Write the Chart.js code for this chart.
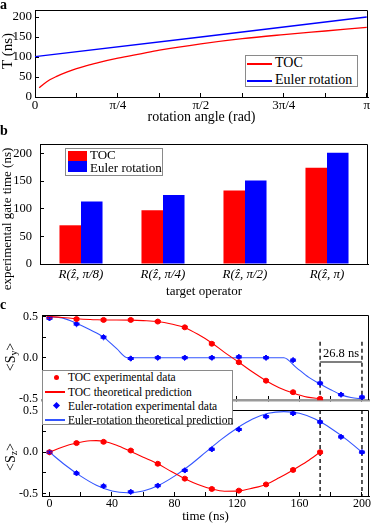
<!DOCTYPE html>
<html>
<head>
<meta charset="utf-8">
<script src="https://cdn.jsdelivr.net/npm/chart.js@4.4.0/dist/chart.umd.min.js"></script>
<style>
  body { margin: 0; background: #fff; }
  #fig { position: relative; width: 374px; height: 523px; overflow: hidden;
         font-family: 'Liberation Serif', 'Times New Roman', serif; color: #000; }
  canvas { position: absolute; left: 0; }
  .panel { position: absolute; font-weight: bold; font-size: 14px; line-height: 14px; }
  .ytitle { position: absolute; white-space: nowrap; transform: translate(-50%, -50%) rotate(-90deg); }
  .legend { position: absolute; box-sizing: border-box; background: #fff; border: 1px solid #8a8a8a; z-index: 5; }
  .legend span { position: absolute; }
  .lt { white-space: nowrap; line-height: 16px; }
  .ln { height: 1.5px; }
  sub { font-size: 70%; vertical-align: -0.25em; }
</style>
</head>
<body>
<div id="fig">
  <canvas id="chartA" width="374" height="124" style="top:0px"></canvas>
  <canvas id="chartB" width="374" height="178" style="top:122px"></canvas>
  <canvas id="chartC2" width="374" height="120" style="top:403px"></canvas>
  <canvas id="chartC1" width="374" height="110" style="top:300px"></canvas>

  <div class="panel" style="left:0px;top:-2px">a</div>
  <div class="panel" style="left:0px;top:124px">b</div>
  <div class="panel" style="left:0px;top:298px">c</div>

  <div class="ytitle" style="left:7px;top:51px;font-size:15px">T (ns)</div>
  <div class="ytitle" style="left:7px;top:219px;font-size:13px">experimental gate time (ns)</div>
  <div class="ytitle" style="left:11px;top:357px;font-size:14px">&lt;S<sub>y</sub>&gt;</div>
  <div class="ytitle" style="left:11px;top:457px;font-size:14px">&lt;S<sub>z</sub>&gt;</div>

  <div class="legend" style="left:245px;top:55px;width:113px;height:32px;font-size:14px">
    <span class="ln" style="left:1px;top:7px;width:25px;background:#ff0000"></span>
    <span class="lt" style="left:29px;top:-1px">TOC</span>
    <span class="ln" style="left:1px;top:24px;width:25px;background:#0000ff"></span>
    <span class="lt" style="left:29px;top:16px">Euler rotation</span>
  </div>

  <div class="legend" style="left:65px;top:148px;width:98px;height:28px;font-size:13px">
    <span style="left:2px;top:2px;width:19px;height:10px;background:#ff0000"></span>
    <span class="lt" style="left:24px;top:-2px">TOC</span>
    <span style="left:2px;top:12px;width:19px;height:11px;background:#0000ff"></span>
    <span class="lt" style="left:24px;top:11px">Euler rotation</span>
  </div>

  <div class="legend" style="left:42px;top:370px;width:191px;height:55px;font-size:11.5px">
    <span style="left:11px;top:4px;width:5px;height:5px;border-radius:50%;background:#ff0000"></span>
    <span class="lt" style="left:25px;top:-2px">TOC experimental data</span>
    <span class="ln" style="left:2px;top:20px;width:20px;background:#ff0000"></span>
    <span class="lt" style="left:25px;top:13px">TOC theoretical prediction</span>
    <span style="left:11px;top:32px;width:5px;height:5px;transform:rotate(45deg);background:#0000ff"></span>
    <span class="lt" style="left:25px;top:27px">Euler-rotation experimental data</span>
    <span class="ln" style="left:2px;top:48px;width:20px;background:#3355ff"></span>
    <span class="lt" style="left:25px;top:41px">Euler-rotation theoretical prediction</span>
  </div>
</div>

<script>
// ---- panel a: gate time vs rotation angle ----
const angleTOC = [0.04, 0.08, 0.14, 0.2, 0.3, 0.393, 0.5, 0.6, 0.785, 1.0, 1.178, 1.571, 1.963, 2.356, 2.749, 3.142];
const timeTOC = [23, 32, 43, 51, 62, 71, 79, 86, 97, 108, 117, 133, 146, 156, 165, 174];
const angleEuler = [0, 1.571, 3.142];
const timeEuler = [101, 150, 200];
const angleTickLabels = ['0', '', 'π/4', '', 'π/2', '', '3π/4', '', 'π'];

// ---- panel b: experimental gate time per target operator ----
const operators = ['R(ẑ, π/8)', 'R(ẑ, π/4)', 'R(ẑ, π/2)', 'R(ẑ, π)'];
const gateTOC = [70, 97, 133, 174];
const gateEuler = [113, 125, 151, 201];

// ---- panel c: spin expectation values vs time ----
const tocTimes = [0, 17.3, 34.6, 52.0, 69.3, 86.6, 103.9, 121.2, 138.6, 155.9, 173.2];
const tocSy = [0.50, 0.47, 0.46, 0.46, 0.44, 0.37, 0.17, -0.055, -0.28, -0.42, -0.50];
const tocSz = [0.00, 0.11, 0.125, 0.02, -0.14, -0.32, -0.445, -0.465, -0.39, -0.215, 0.00];
const tocErr = [0.012, 0.012, 0.012, 0.012, 0.012, 0.012, 0.012, 0.012, 0.012, 0.012, 0.012];

const eulerTimes = [0, 17.3, 34.6, 52.0, 69.3, 86.6, 103.9, 121.2, 138.6, 155.9, 173.2, 186.6, 200];
const eulerSy = [0.48, 0.41, 0.25, -0.01, 0.0, 0.0, 0.0, 0.01, 0.0, -0.03, -0.31, -0.45, -0.48];
const eulerSz = [0.0, -0.255, -0.41, -0.48, -0.405, -0.22, 0.035, 0.275, 0.43, 0.47, 0.365, 0.185, 0.0];
const eulerErr = [0.012, 0.012, 0.012, 0.012, 0.012, 0.012, 0.012, 0.012, 0.012, 0.012, 0.012, 0.012, 0.012];

const tocTheoryT = [0, 8, 17.3, 26, 30, 34.6, 43, 52, 60, 69.3, 78, 86.6, 95, 103.9, 112, 121.2, 130, 138.6, 147, 155.9, 165, 173.2];
const tocTheorySy = [0.50, 0.49, 0.475, 0.465, 0.462, 0.46, 0.46, 0.458, 0.452, 0.44, 0.41, 0.365, 0.285, 0.18, 0.065, -0.055, -0.175, -0.28, -0.365, -0.43, -0.48, -0.50];
const tocTheorySz = [0.0, 0.06, 0.11, 0.138, 0.14, 0.133, 0.085, 0.008, -0.06, -0.14, -0.235, -0.32, -0.39, -0.445, -0.472, -0.468, -0.435, -0.39, -0.31, -0.215, -0.11, 0.0];

const eulerTheorySyT = [0, 8, 17.3, 26, 34.6, 43, 50, 100, 150, 158, 166, 173.2, 180, 186.6, 193, 200];
const eulerTheorySy = [0.5, 0.485, 0.42, 0.34, 0.25, 0.11, 0.0, 0.0, 0.0, -0.12, -0.24, -0.32, -0.39, -0.45, -0.485, -0.5];
const eulerTheorySzT = [0, 10, 20, 30, 40, 50, 60, 70, 80, 90, 100, 110, 120, 130, 140, 150, 160, 170, 180, 190, 200];
const eulerTheorySz = [0, -0.155, -0.29, -0.4, -0.47, -0.49, -0.47, -0.4, -0.29, -0.155, 0, 0.155, 0.29, 0.4, 0.47, 0.49, 0.47, 0.4, 0.29, 0.155, 0];

const timeTicks = [0, 20, 40, 60, 80, 100, 120, 140, 160, 180, 200];
const spinTicks = [-0.5, -0.25, 0, 0.25, 0.5];

const RED = '#ff0000';
const BLUE = '#0000ff';
const LINEBLUE = '#3355ff';

Chart.defaults.font.family = "'Liberation Serif', 'Times New Roman', serif";
Chart.defaults.color = '#000';
Chart.defaults.animation = false;

function pts(xs, ys) {
    return xs.map((x, i) => ({ x: x, y: ys[i] }));
}

// fixed axis thickness, and no extra room reserved for edge labels
function fixAxis(prop, size) {
    return s => {
        s[prop] = size;
        s.paddingTop = 0; s.paddingBottom = 0; s.paddingLeft = 0; s.paddingRight = 0;
    };
}

// closes the box: top and right edges of the plot
const framePlugin = {
    id: 'frame',
    afterDraw(chart) {
        const { ctx, chartArea: a } = chart;
        ctx.save();
        ctx.strokeStyle = '#000';
        ctx.lineWidth = 1;
        ctx.beginPath();
        ctx.moveTo(Math.round(a.left) + 0.5, Math.round(a.top) + 0.5);
        ctx.lineTo(Math.round(a.right) - 0.5, Math.round(a.top) + 0.5);
        ctx.lineTo(Math.round(a.right) - 0.5, Math.round(a.bottom));
        ctx.stroke();
        ctx.restore();
    }
};

// small capped error bars for datasets carrying an errs array
const errorBarPlugin = {
    id: 'errorBars',
    afterDatasetsDraw(chart) {
        const { ctx } = chart;
        const yScale = chart.scales.y;
        chart.data.datasets.forEach((ds, i) => {
            if (!ds.errs) return;
            const meta = chart.getDatasetMeta(i);
            ctx.save();
            ctx.strokeStyle = ds.backgroundColor;
            ctx.lineWidth = 1;
            meta.data.forEach((pt, j) => {
                const yTop = yScale.getPixelForValue(ds.data[j].y + ds.errs[j]);
                const yBot = yScale.getPixelForValue(ds.data[j].y - ds.errs[j]);
                ctx.beginPath();
                ctx.moveTo(pt.x, yTop); ctx.lineTo(pt.x, yBot);
                ctx.moveTo(pt.x - 3, yTop); ctx.lineTo(pt.x + 3, yTop);
                ctx.moveTo(pt.x - 3, yBot); ctx.lineTo(pt.x + 3, yBot);
                ctx.stroke();
            });
            ctx.restore();
        });
    }
};

// dashed markers at the end times of both gates + the 26.8 ns bracket
const guidePlugin = {
    id: 'guides',
    beforeDatasetsDraw(chart, args, opts) {
        if (!opts.xs) return;
        const { ctx, chartArea: a, scales: { x, y } } = chart;
        const top = opts.from == null ? a.top : y.getPixelForValue(opts.from);
        ctx.save();
        ctx.setLineDash([4, 3]);
        ctx.strokeStyle = '#000';
        ctx.lineWidth = 1.3;
        opts.xs.forEach(v => {
            const px = x.getPixelForValue(v);
            ctx.beginPath();
            ctx.moveTo(px, top);
            ctx.lineTo(px, a.bottom);
            ctx.stroke();
        });
        if (opts.label) {
            const x1 = x.getPixelForValue(opts.xs[0]);
            const x2 = x.getPixelForValue(opts.xs[1]);
            const py = y.getPixelForValue(opts.barY);
            ctx.setLineDash([]);
            ctx.strokeStyle = '#555';
            ctx.lineWidth = 1.5;
            ctx.beginPath();
            ctx.moveTo(x1, py);
            ctx.lineTo(x2, py);
            ctx.stroke();
            ctx.fillStyle = '#000';
            ctx.font = "12.5px 'Liberation Serif', serif";
            ctx.textAlign = 'center';
            ctx.textBaseline = 'bottom';
            ctx.fillText(opts.label, (x1 + x2) / 2, py - 2);
        }
        ctx.restore();
    }
};

// ---- chart a ----
new Chart(document.getElementById('chartA'), {
    type: 'scatter',
    data: {
        datasets: [
            {
                label: 'TOC',
                data: pts(angleTOC, timeTOC),
                showLine: true,
                borderColor: RED,
                borderWidth: 1.3,
                pointRadius: 0,
                cubicInterpolationMode: 'monotone'
            },
            {
                label: 'Euler rotation',
                data: pts(angleEuler, timeEuler),
                showLine: true,
                borderColor: BLUE,
                borderWidth: 1.3,
                pointRadius: 0
            }
        ]
    },
    options: {
        responsive: false,
        layout: { padding: { top: 10, right: 6, left: 0, bottom: 0 } },
        plugins: { legend: { display: false }, tooltip: { enabled: false } },
        scales: {
            x: {
                type: 'linear',
                min: 0,
                max: 3.154,
                afterFit: fixAxis('height', 27),
                afterBuildTicks: s => { s.ticks = [0, 1, 2, 3, 4, 5, 6, 7, 8].map(k => ({ value: k * Math.PI / 8 })); },
                ticks: {
                    font: { size: 13 },
                    padding: 5,
                    maxRotation: 0,
                    autoSkip: false,
                    callback: (v, i) => angleTickLabels[i]
                },
                grid: { drawOnChartArea: false, tickLength: -4, color: '#000' },
                border: { color: '#000' },
                title: { display: true, text: 'rotation angle (rad)', font: { size: 14, lineHeight: 1 }, padding: 0 }
            },
            y: {
                min: 0,
                max: 217.5,
                afterFit: fixAxis('width', 35),
                afterBuildTicks: s => { s.ticks = [0, 50, 100, 150, 200].map(v => ({ value: v })); },
                ticks: { font: { size: 13 }, padding: 7, autoSkip: false },
                grid: { drawOnChartArea: false, tickLength: -4, color: '#000' },
                border: { color: '#000' }
            }
        }
    },
    plugins: [framePlugin]
});

// ---- chart b ----
new Chart(document.getElementById('chartB'), {
    type: 'bar',
    data: {
        labels: operators,
        datasets: [
            { label: 'TOC', data: gateTOC, backgroundColor: RED, borderWidth: 0 },
            { label: 'Euler rotation', data: gateEuler, backgroundColor: BLUE, borderWidth: 0 }
        ]
    },
    options: {
        responsive: false,
        layout: { padding: { top: 22, right: 6, left: 0, bottom: 0 } },
        categoryPercentage: 0.525,
        barPercentage: 1,
        plugins: { legend: { display: false }, tooltip: { enabled: false } },
        scales: {
            x: {
                afterFit: fixAxis('height', 36),
                ticks: { font: { size: 13, style: 'italic' }, padding: 3, maxRotation: 0 },
                grid: { display: false, drawTicks: false, tickLength: 0 },
                border: { display: true, color: '#000' },
                title: { display: true, text: 'target operator', font: { size: 13, lineHeight: 1 }, padding: { top: 0, bottom: 2 } }
            },
            y: {
                min: 0,
                max: 217,
                afterFit: fixAxis('width', 40),
                afterBuildTicks: s => { s.ticks = [0, 50, 100, 150, 200].map(v => ({ value: v })); },
                ticks: { font: { size: 12.5 }, padding: 12, autoSkip: false },
                grid: { drawOnChartArea: false, tickLength: -4, color: '#000' },
                border: { color: '#000' }
            }
        }
    },
    plugins: [framePlugin]
});

// ---- chart c (shared pieces) ----
function spinChart(id, tocExp, tocTheory, eulerExp, eulerTheoryT, eulerTheory, opts) {
    return new Chart(document.getElementById(id), {
        type: 'scatter',
        data: {
            datasets: [
                {
                    label: 'TOC experimental data',
                    data: pts(tocTimes, tocExp),
                    errs: tocErr,
                    backgroundColor: RED,
                    borderColor: RED,
                    pointRadius: 2.5,
                    pointStyle: 'circle'
                },
                {
                    label: 'Euler-rotation experimental data',
                    data: pts(eulerTimes, eulerExp),
                    errs: eulerErr,
                    backgroundColor: BLUE,
                    borderColor: BLUE,
                    pointRadius: 2.7,
                    pointStyle: 'rectRot'
                },
                {
                    label: 'TOC theoretical prediction',
                    data: pts(tocTheoryT, tocTheory),
                    showLine: true,
                    borderColor: RED,
                    borderWidth: 1.1,
                    pointRadius: 0,
                    cubicInterpolationMode: 'monotone'
                },
                {
                    label: 'Euler-rotation theoretical prediction',
                    data: pts(eulerTheoryT, eulerTheory),
                    showLine: true,
                    borderColor: LINEBLUE,
                    borderWidth: 1.1,
                    pointRadius: 0,
                    cubicInterpolationMode: 'monotone'
                }
            ]
        },
        options: {
            responsive: false,
            layout: { padding: { top: opts.top, right: 2, left: 0, bottom: 0 } },
            plugins: {
                legend: { display: false },
                tooltip: { enabled: false },
                guides: opts.guides
            },
            scales: {
                x: {
                    type: 'linear',
                    min: -4.8,
                    max: 204.5,
                    afterFit: fixAxis('height', opts.xHeight),
                    afterBuildTicks: s => { s.ticks = timeTicks.map(v => ({ value: v })); },
                    ticks: {
                        display: opts.xLabels,
                        font: { size: 12 },
                        padding: 5,
                        maxRotation: 0,
                        autoSkip: false,
                        callback: v => (v % 40 === 0 ? String(v) : '')
                    },
                    grid: { drawOnChartArea: false, tickLength: -4, color: '#000' },
                    border: { color: opts.xBorder, width: opts.xBorderWidth },
                    title: { display: opts.xLabels, text: 'time (ns)', font: { size: 13, lineHeight: 1 }, padding: 0 }
                },
                y: {
                    min: opts.yMin,
                    max: opts.yMax,
                    afterFit: fixAxis('width', 42),
                    afterBuildTicks: s => { s.ticks = spinTicks.map(v => ({ value: v })); },
                    ticks: {
                        font: { size: 12 },
                        padding: 8,
                        autoSkip: false,
                        callback: v => (Math.abs(v) === 0.5 || v === 0 ? v.toFixed(1) : '')
                    },
                    grid: { drawOnChartArea: false, tickLength: -4, color: '#000' },
                    border: { color: '#000' }
                }
            }
        },
        plugins: [framePlugin, guidePlugin, errorBarPlugin]
    });
}

spinChart('chartC1', tocSy, tocTheorySy, eulerSy, eulerTheorySyT, eulerTheorySy, {
    top: 15, xHeight: 10, xLabels: false, xBorder: '#9a9a9a', xBorderWidth: 2.5,
    yMin: -0.515, yMax: 0.52,
    guides: { xs: [173.2, 200], from: 0.195, barY: -0.053, label: '26.8 ns' }
});

spinChart('chartC2', tocSz, tocTheorySz, eulerSz, eulerTheorySzT, eulerTheorySz, {
    top: 7, xHeight: 27, xLabels: true, xBorder: '#000', xBorderWidth: 1,
    yMin: -0.53, yMax: 0.51,
    guides: { xs: [173.2, 200] }
});
</script>
</body>
</html>
